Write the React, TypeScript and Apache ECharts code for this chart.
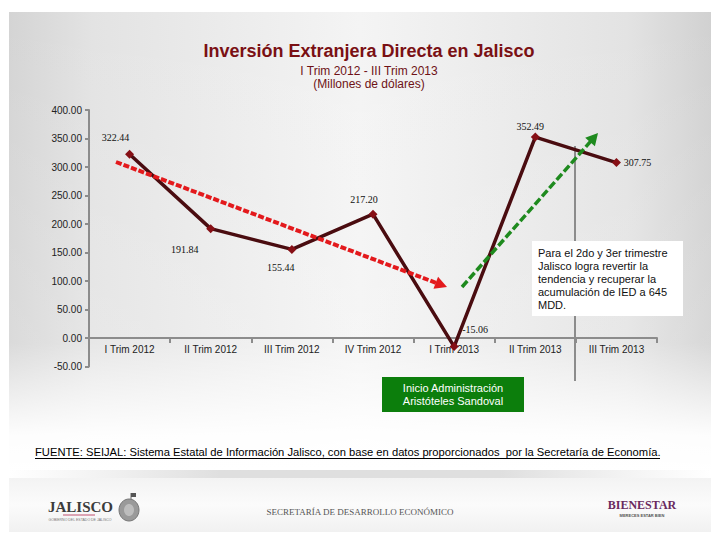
import React, { useEffect, useRef } from "react";
import * as echarts from "echarts";

const categories = [
  "I Trim 2012",
  "II Trim 2012",
  "III Trim 2012",
  "IV Trim 2012",
  "I Trim 2013",
  "II Trim 2013",
  "III Trim 2013",
];
const values = [322.44, 191.84, 155.44, 217.2, -15.06, 352.49, 307.75];
const labelOffsets = [
  [-14, -17],
  [-26, 21],
  [-11, 18],
  [-9, -15],
  [21, -17],
  [-5, -11],
  [21, 0],
];
const yMin = -50;
const yMax = 400;
const yInterval = 50;

const titleText = "Inversión Extranjera Directa en Jalisco";
const subtitleLines = ["I Trim 2012 - III Trim 2013", "(Millones de dólares)"];
const noteLines = [
  "Para el 2do y 3er trimestre",
  "Jalisco logra revertir la",
  "tendencia y recuperar la",
  "acumulación de IED a 645",
  "MDD.",
];
const adminLines = ["Inicio Administración", "Aristóteles Sandoval"];
const sourceText =
  "FUENTE: SEIJAL: Sistema Estatal de Información Jalisco, con base en datos proporcionados  por la Secretaría de Economía.";

function arrowHead(x1: number, y1: number, x2: number, y2: number, len: number, half: number) {
  const dx = x2 - x1;
  const dy = y2 - y1;
  const d = Math.sqrt(dx * dx + dy * dy);
  const ux = dx / d;
  const uy = dy / d;
  const bx = x2 - ux * len;
  const by = y2 - uy * len;
  return [
    [x2, y2],
    [bx - uy * half, by + ux * half],
    [bx + uy * half, by - ux * half],
  ];
}

function shorten(x1: number, y1: number, x2: number, y2: number, s: number) {
  const dx = x2 - x1;
  const dy = y2 - y1;
  const d = Math.sqrt(dx * dx + dy * dy);
  return [x2 - (dx / d) * s, y2 - (dy / d) * s];
}

export default function App() {
  const ref = useRef<HTMLDivElement>(null);

  useEffect(() => {
    if (!ref.current) return;
    const chart = echarts.init(ref.current, null, { renderer: "svg" });

    const red = { x1: 116, y1: 162, x2: 447, y2: 287 };
    const green = { x1: 462, y1: 287, x2: 598, y2: 133 };
    const redEnd = shorten(red.x1, red.y1, red.x2, red.y2, 9);
    const greenEnd = shorten(green.x1, green.y1, green.x2, green.y2, 9);

    const graphics: any[] = [
      // slide background
      {
        type: "rect",
        z: -10,
        silent: true,
        shape: { x: 9, y: 12, width: 702, height: 460 },
        style: {
          fill: new echarts.graphic.LinearGradient(0, 0, 1, 0, [
            { offset: 0, color: "#d4d4d4" },
            { offset: 0.12, color: "#e3e3e3" },
            { offset: 0.5, color: "#f4f4f4" },
            { offset: 0.88, color: "#e3e3e3" },
            { offset: 1, color: "#d1d1d1" },
          ]),
        },
      },
      {
        type: "rect",
        z: -9,
        silent: true,
        shape: { x: 9, y: 12, width: 702, height: 460 },
        style: {
          fill: new echarts.graphic.LinearGradient(0, 0, 0, 1, [
            { offset: 0, color: "rgba(255,255,255,0)" },
            { offset: 0.72, color: "rgba(255,255,255,0.15)" },
            { offset: 0.92, color: "rgba(255,255,255,0.95)" },
            { offset: 1, color: "rgba(255,255,255,1)" },
          ]),
        },
      },
      {
        type: "rect",
        z: -9,
        silent: true,
        shape: { x: 9, y: 470, width: 702, height: 14 },
        style: {
          fill: new echarts.graphic.LinearGradient(0, 0, 1, 0, [
            { offset: 0, color: "rgba(220,220,220,0)" },
            { offset: 0.3, color: "rgba(215,215,215,0.8)" },
            { offset: 0.7, color: "rgba(215,215,215,0.8)" },
            { offset: 1, color: "rgba(220,220,220,0)" },
          ]),
        },
      },
      {
        type: "rect",
        z: -8,
        silent: true,
        shape: { x: 9, y: 478, width: 702, height: 54 },
        style: {
          fill: new echarts.graphic.LinearGradient(0, 0, 0, 1, [
            { offset: 0, color: "#f3f3f3" },
            { offset: 0.5, color: "#fbfbfb" },
            { offset: 1, color: "#f1f1f1" },
          ]),
        },
      },
      // title
      {
        type: "text",
        z: 5,
        x: 369,
        y: 51,
        style: {
          text: titleText,
          fill: "#7a1014",
          font: "bold 18px 'Liberation Sans', Arial, sans-serif",
          align: "center",
          verticalAlign: "middle",
        },
      },
      {
        type: "text",
        z: 5,
        x: 369,
        y: 71,
        style: {
          text: subtitleLines[0],
          fill: "#6e1216",
          font: "12px 'Liberation Sans', Arial, sans-serif",
          align: "center",
          verticalAlign: "middle",
        },
      },
      {
        type: "text",
        z: 5,
        x: 369,
        y: 84,
        style: {
          text: subtitleLines[1],
          fill: "#6e1216",
          font: "12px 'Liberation Sans', Arial, sans-serif",
          align: "center",
          verticalAlign: "middle",
        },
      },
      // vertical divider
      {
        type: "line",
        z: 1,
        silent: true,
        shape: { x1: 575, y1: 146, x2: 575, y2: 381 },
        style: { stroke: "#8c8c8c", lineWidth: 2 },
      },
      // red arrow
      {
        type: "line",
        z: 20,
        shape: { x1: red.x1, y1: red.y1, x2: redEnd[0], y2: redEnd[1] },
        style: { stroke: "#e3191c", lineWidth: 4, lineDash: [6, 2] },
      },
      {
        type: "polygon",
        z: 20,
        shape: { points: arrowHead(red.x1, red.y1, red.x2, red.y2, 12, 6.5) },
        style: { fill: "#e3191c" },
      },
      // green arrow
      {
        type: "line",
        z: 20,
        shape: { x1: green.x1, y1: green.y1, x2: greenEnd[0], y2: greenEnd[1] },
        style: { stroke: "#1e8a1e", lineWidth: 3.5, lineDash: [8, 3] },
      },
      {
        type: "polygon",
        z: 20,
        shape: { points: arrowHead(green.x1, green.y1, green.x2, green.y2, 12, 6.5) },
        style: { fill: "#1e8a1e" },
      },
      // note box
      {
        type: "rect",
        z: 15,
        shape: { x: 532, y: 241, width: 151, height: 75 },
        style: { fill: "#ffffff" },
      },
      {
        type: "text",
        z: 16,
        x: 538,
        y: 246,
        style: {
          text: noteLines.join("\n"),
          fill: "#111",
          font: "11px 'Liberation Sans', Arial, sans-serif",
          lineHeight: 13,
          align: "left",
          verticalAlign: "top",
        },
      },
      // admin box
      {
        type: "rect",
        z: 15,
        shape: { x: 382, y: 377, width: 142, height: 35 },
        style: { fill: "#0c7e0c" },
      },
      {
        type: "text",
        z: 16,
        x: 453,
        y: 394.5,
        style: {
          text: adminLines.join("\n"),
          fill: "#ffffff",
          font: "11px 'Liberation Sans', Arial, sans-serif",
          lineHeight: 13,
          align: "center",
          verticalAlign: "middle",
        },
      },
      // source
      {
        type: "text",
        z: 16,
        x: 35,
        y: 452,
        style: {
          text: sourceText,
          fill: "#000",
          font: "11.2px 'Liberation Sans', Arial, sans-serif",
          align: "left",
          verticalAlign: "middle",
        },
      },
      {
        type: "line",
        z: 16,
        shape: { x1: 35, y1: 458.5, x2: 660, y2: 458.5 },
        style: { stroke: "#000", lineWidth: 1 },
      },
      // footer: Jalisco logo
      {
        type: "text",
        z: 16,
        x: 48,
        y: 507,
        style: {
          text: "JALISCO",
          fill: "#3c3c3c",
          font: "bold 15px 'Liberation Serif', 'Times New Roman', serif",
          align: "left",
          verticalAlign: "middle",
        },
      },
      {
        type: "line",
        z: 16,
        shape: { x1: 63, y1: 515, x2: 95, y2: 515 },
        style: { stroke: "#c05070", lineWidth: 1 },
      },
      {
        type: "text",
        z: 16,
        x: 80,
        y: 520,
        style: {
          text: "GOBIERNO DEL ESTADO DE JALISCO",
          fill: "#777",
          font: "3.5px 'Liberation Sans', Arial, sans-serif",
          align: "center",
          verticalAlign: "middle",
        },
      },
      {
        type: "line",
        z: 16,
        shape: { x1: 131, y1: 493, x2: 131, y2: 503 },
        style: { stroke: "#666", lineWidth: 1 },
      },
      {
        type: "rect",
        z: 16,
        shape: { x: 131, y: 493, width: 5, height: 4 },
        style: { fill: "#555" },
      },
      {
        type: "ellipse",
        z: 16,
        shape: { cx: 129, cy: 510, rx: 10, ry: 11 },
        style: { fill: "#9a9a9a", stroke: "#777", lineWidth: 1 },
      },
      {
        type: "ellipse",
        z: 16,
        shape: { cx: 129, cy: 510, rx: 5, ry: 6 },
        style: { fill: "#bdbdbd" },
      },
      // secretaría
      {
        type: "text",
        z: 16,
        x: 360,
        y: 512,
        style: {
          text: "SECRETARÍA DE DESARROLLO ECONÓMICO",
          fill: "#555",
          font: "9px 'Liberation Serif', 'Times New Roman', serif",
          align: "center",
          verticalAlign: "middle",
        },
      },
      // bienestar
      {
        type: "text",
        z: 16,
        x: 642,
        y: 505,
        style: {
          text: "BIENESTAR",
          fill: "#6a2a5e",
          font: "bold 12px 'Liberation Serif', 'Times New Roman', serif",
          align: "center",
          verticalAlign: "middle",
        },
      },
      {
        type: "text",
        z: 16,
        x: 642,
        y: 515,
        style: {
          text: "MERECES ESTAR BIEN",
          fill: "#555",
          font: "bold 4px 'Liberation Sans', Arial, sans-serif",
          align: "center",
          verticalAlign: "middle",
        },
      },
    ];

    chart.setOption({
      animation: false,
      backgroundColor: "#ffffff",
      grid: { left: 89, right: 63, top: 110, bottom: 173.5, containLabel: false },
      xAxis: {
        type: "category",
        data: categories,
        boundaryGap: true,
        axisLine: { onZero: true, lineStyle: { color: "#8c8c8c", width: 2 } },
        axisTick: { show: true, length: 5, lineStyle: { color: "#8c8c8c", width: 2 } },
        axisLabel: {
          color: "#222",
          fontSize: 10,
          fontFamily: "'Liberation Sans', Arial, sans-serif",
          margin: -22.5,
        },
        splitLine: { show: false },
      },
      yAxis: {
        type: "value",
        min: yMin,
        max: yMax,
        interval: yInterval,
        axisLine: { show: true, lineStyle: { color: "#8c8c8c", width: 2 } },
        axisTick: { show: true, length: 4, lineStyle: { color: "#8c8c8c", width: 2 } },
        axisLabel: {
          color: "#222",
          fontSize: 10,
          fontFamily: "'Liberation Sans', Arial, sans-serif",
          margin: 7,
          formatter: (v: number) => v.toFixed(2),
        },
        splitLine: { show: false },
      },
      series: [
        {
          type: "line",
          z: 10,
          data: values.map((v, i) => ({
            value: v,
            label: { offset: labelOffsets[i] },
          })),
          symbol: "diamond",
          symbolSize: 9,
          lineStyle: { color: "#4a0c10", width: 3.5 },
          itemStyle: { color: "#860f15" },
          label: {
            show: true,
            position: "inside",
            color: "#111",
            fontSize: 10,
            fontFamily: "'Liberation Serif', 'Times New Roman', serif",
            align: "center",
            verticalAlign: "middle",
            formatter: (p: any) => Number(p.value).toFixed(2),
          },
        },
      ],
      graphic: graphics,
    });

    return () => {
      chart.dispose();
    };
  }, []);

  return (
    <div
      ref={ref}
      style={{ position: "absolute", left: 0, top: 0, width: 720, height: 540 }}
    />
  );
}
